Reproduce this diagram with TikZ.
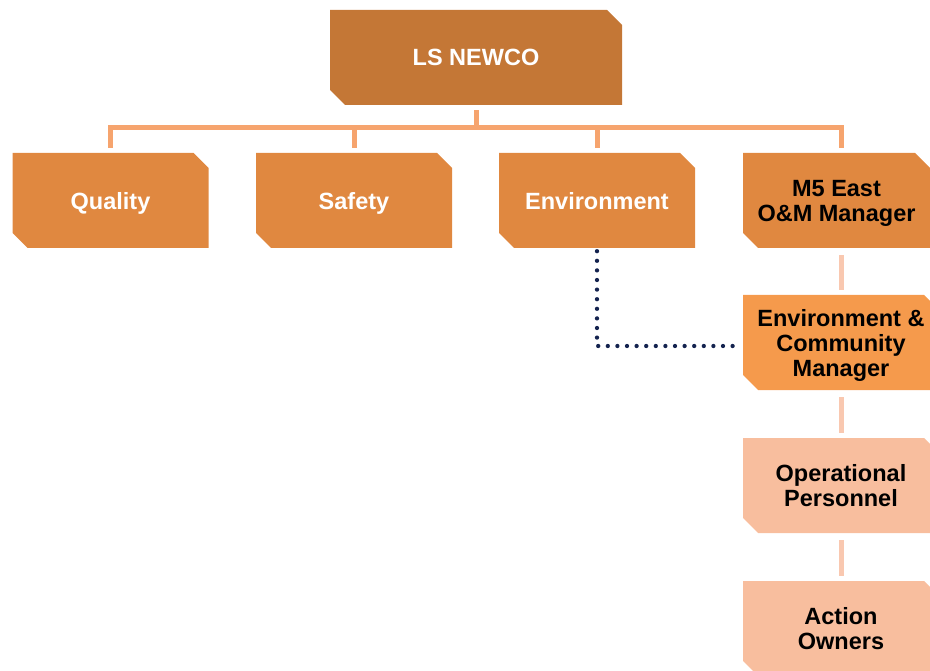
\documentclass[tikz,border=0pt]{standalone}
\usepackage{fontspec}
\setmainfont{Liberation Sans}
\usepackage{xcolor}

\definecolor{topbrown}{HTML}{C47736}
\definecolor{midorange}{HTML}{E08840}
\definecolor{brightorange}{HTML}{F59A4C}
\definecolor{paleorange}{HTML}{F8BE9E}
\definecolor{linkorange}{HTML}{F6A46E}
\definecolor{linkpale}{HTML}{F9C8B0}
\definecolor{dotnavy}{HTML}{14234F}

\tikzset{
	orgbox/.style = {rectangle, inner sep = 0pt, minimum width = 196pt, minimum height = 95pt,
		align = center, text depth = 0pt, font = \bfseries\fontsize{23.5}{25}\selectfont,
		path picture = {
			\fill [#1] (path picture bounding box.north west)
				-- ([xshift = -15pt]path picture bounding box.north east)
				-- ([yshift = -15pt]path picture bounding box.north east)
				-- (path picture bounding box.south east)
				-- ([xshift = 15pt]path picture bounding box.south west)
				-- ([yshift = 15pt]path picture bounding box.south west) -- cycle;
		}},
	link/.style = {draw = linkorange, line width = 5pt},
	palelink/.style = {draw = linkpale, line width = 5pt},
	dotlink/.style = {draw = dotnavy, line width = 4.3pt, line cap = round, dash pattern = on 0pt off 9.6pt}
}

\begin{document}
\begin{tikzpicture}[x = 1pt, y = -1pt]
			\useasboundingbox (0,0) rectangle (930,671);
			\def\rowy{200.5};

			% top
			\node [orgbox = topbrown, text = white, minimum width = 292pt] (newco) at (476,57.5) {LS NEWCO};

			% second row
			\node [orgbox = midorange, text = white] (quality) at (110.5,\rowy) {Quality};
			\node [orgbox = midorange, text = white] (safety) at (354,\rowy) {Safety};
			\node [orgbox = midorange, text = white] (environment) at (597,\rowy) {Environment};
			\node [orgbox = midorange, minimum width = 187pt] (manager) at (836.5,\rowy) {M5 East\\O\&M Manager};

			% column under the manager
			\node [orgbox = brightorange] (community) at (841,342.5) {Environment \&\\Community\\Manager};
			\node [orgbox = paleorange] (personnel) at (841,485.5) {Operational\\Personnel};
			\node [orgbox = paleorange] (owners) at (841,628.5) {Action\\Owners};

			% tree links
			\coordinate (hub) at (476,128);
			\begin{scope}[link]
				\draw ([yshift = -5pt]newco.south) -- (hub);
				\draw (hub) -| ([yshift = 5pt]quality.north);
				\draw (hub) -| ([yshift = 5pt]safety.north);
				\draw (hub) -| ([yshift = 5pt]environment.north);
				\draw (hub) -| ([yshift = 5pt]community.north |- manager.north);
			\end{scope}

			\begin{scope}[palelink]
				\draw ([yshift = -7pt]community.north |- manager.south) -- ([yshift = 5pt]community.north);
				\draw ([yshift = -7pt]community.south) -- ([yshift = 5pt]personnel.north);
				\draw ([yshift = -7pt]personnel.south) -- ([yshift = 5pt]owners.north);
			\end{scope}

			% reporting line
			\draw [dotlink] ([yshift = -3pt]environment.south) |- ([xshift = -7pt, yshift = -3.5pt]community.west);
		\end{tikzpicture}
\end{document}
